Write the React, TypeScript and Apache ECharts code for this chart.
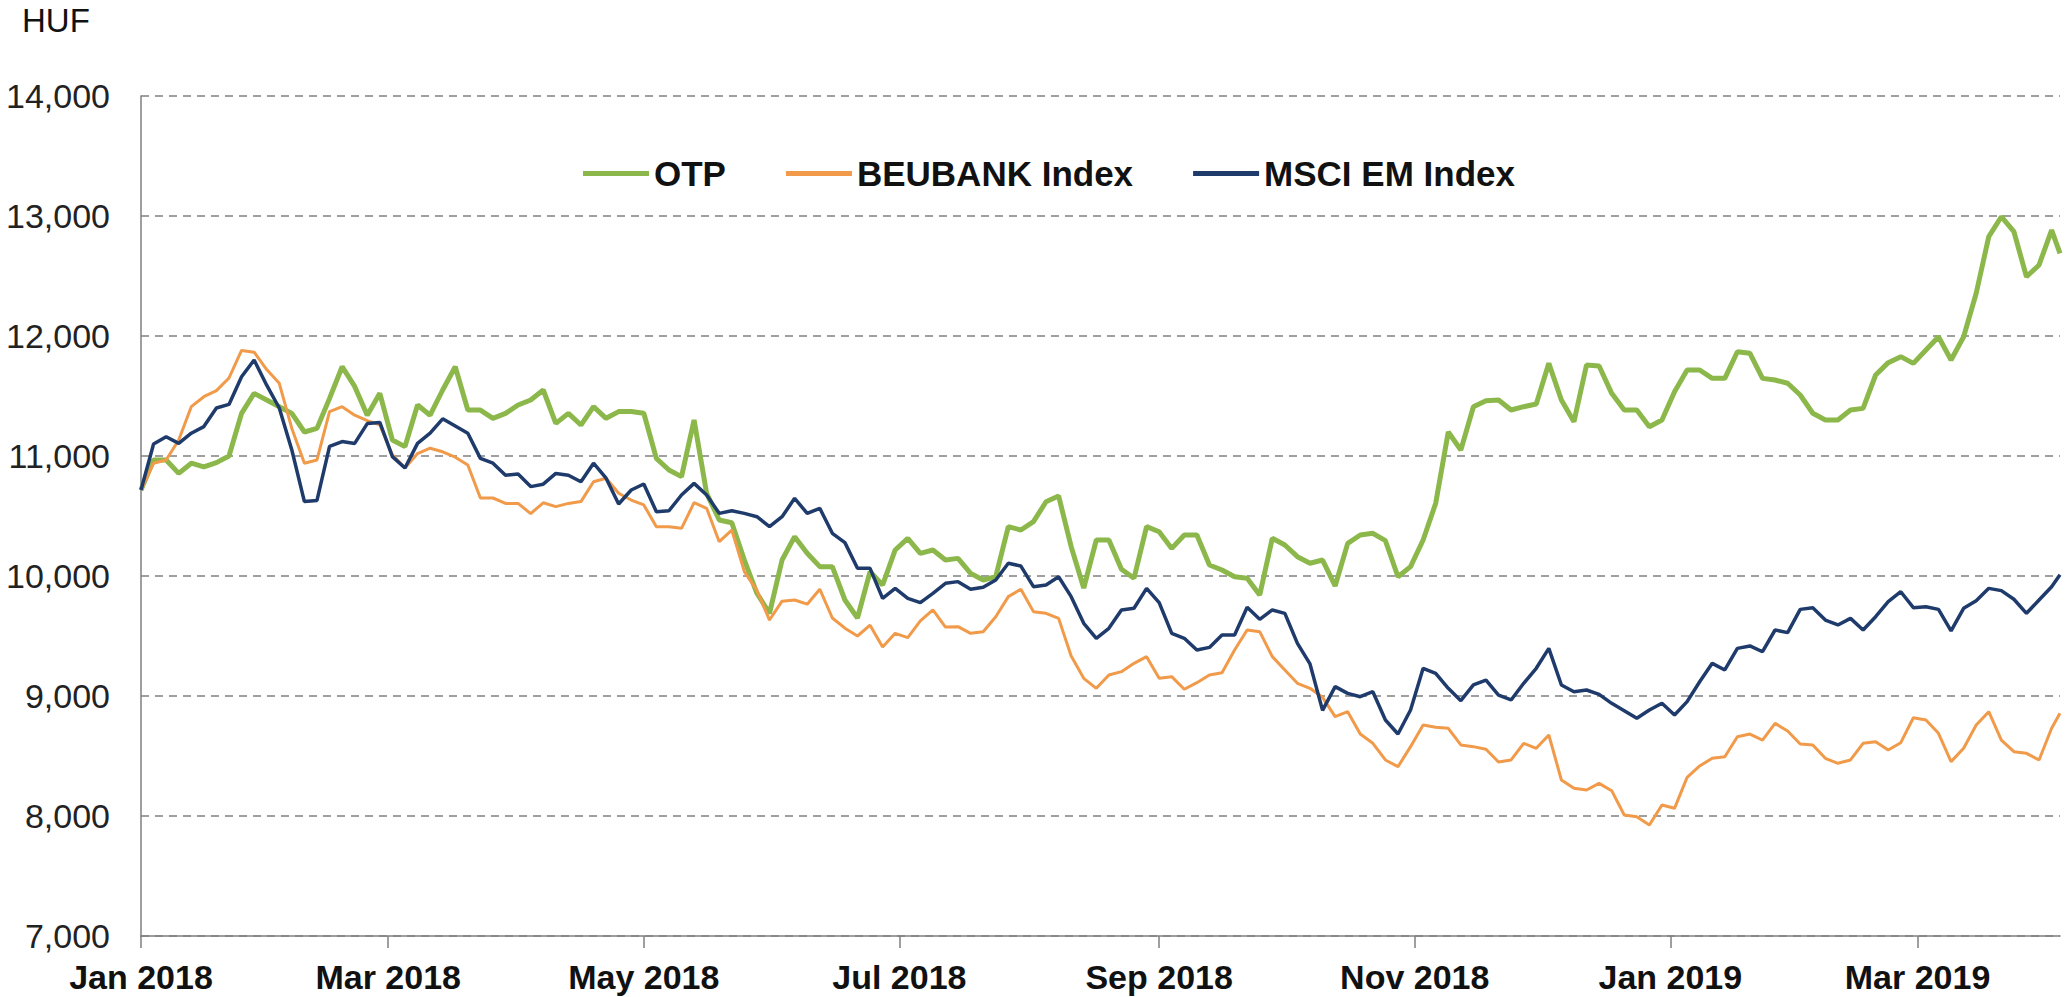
import React, { useEffect, useRef } from "react";
import * as echarts from "echarts";

// Sampling days (offset in calendar days from 1 Jan 2018), one reading every 3 days, last reading 458
const days: number[] = [];
for (let d = 0; d <= 456; d += 3) days.push(d);
days.push(458);

const otp: number[] = [
  10717, 10967, 10967, 10855, 10940, 10910, 10945, 11000, 11355, 11522,
  11467, 11411, 11355, 11200, 11230, 11480, 11744, 11580, 11340, 11522,
  11133, 11078, 11425, 11340, 11550, 11744, 11383, 11383, 11314, 11355,
  11425, 11467, 11550, 11272, 11355, 11258, 11411, 11314, 11370,
  11370, 11356, 10980, 10883, 10828, 11300, 10689, 10467, 10444, 10133,
  9856, 9689, 10133, 10328, 10189, 10078, 10078, 9800, 9650, 10036,
  9925, 10217, 10314, 10189, 10217, 10133, 10147, 10022, 9967, 9994,
  10411, 10383, 10453, 10619, 10667, 10244, 9900, 10300,
  10300, 10056, 9981, 10411, 10369, 10230, 10342, 10342, 10092, 10050,
  9994, 9981, 9842, 10314, 10258, 10161, 10106, 10133, 9917, 10272,
  10342, 10356, 10294, 9994, 10078, 10300, 10606, 11200, 11050, 11411,
  11461, 11467, 11383, 11411, 11433, 11772, 11467, 11286,
  11758, 11750, 11522, 11383, 11383, 11244, 11300, 11536, 11717, 11717,
  11647, 11647, 11869, 11856, 11647, 11633, 11606, 11508, 11356, 11300,
  11300, 11383, 11397, 11675, 11778, 11828, 11772, 11883, 11994, 11800,
  11994, 12356, 12828, 12994, 12869, 12494, 12592, 12883,
  12689,
];

const beubank: number[] = [
  10717, 10940, 10967, 11133, 11411, 11494, 11545, 11650, 11880, 11865,
  11720, 11606, 11230, 10940, 10967, 11370, 11411, 11340, 11295, 11260,
  11010, 10900, 11020, 11065, 11035, 10990, 10925, 10650, 10650, 10605,
  10605, 10520, 10610, 10578, 10605, 10620, 10785, 10815, 10690,
  10633, 10592, 10411, 10411, 10397, 10611, 10564, 10286, 10383, 10036,
  9880, 9633, 9790, 9800, 9765, 9890, 9650, 9565, 9500, 9590,
  9408, 9522, 9487, 9626, 9717, 9574, 9578, 9522, 9536, 9661,
  9828, 9890, 9703, 9689, 9647, 9333, 9147, 9064,
  9175, 9203, 9272, 9328, 9147, 9161, 9056, 9111, 9175, 9194,
  9383, 9550, 9536, 9328, 9217, 9106, 9064, 8989, 8828, 8869,
  8683, 8606, 8467, 8411, 8578, 8758, 8739, 8731, 8592, 8578,
  8556, 8450, 8467, 8606, 8564, 8675, 8300, 8231,
  8217, 8272, 8211, 8008, 7994, 7925, 8092, 8064, 8322, 8417,
  8481, 8494, 8661, 8683, 8633, 8772, 8708, 8600, 8592, 8481,
  8439, 8467, 8606, 8619, 8550, 8611, 8819, 8800, 8689, 8453,
  8564, 8758, 8869, 8633, 8536, 8522, 8467, 8731,
  8856,
];

const msci: number[] = [
  10717, 11100, 11160, 11105, 11190, 11245, 11400, 11430, 11660, 11800,
  11590, 11400, 11050, 10620, 10630, 11080, 11120, 11105, 11270, 11280,
  10995, 10900, 11105, 11190, 11310, 11250, 11190, 10980, 10940, 10840,
  10850, 10745, 10765, 10855, 10840, 10785, 10940, 10815, 10600,
  10717, 10767, 10536, 10544, 10675, 10772, 10675, 10522, 10544, 10522,
  10494, 10411, 10494, 10647, 10522, 10564, 10356, 10278, 10064, 10064,
  9814, 9897, 9814, 9778, 9856, 9939, 9953, 9889, 9906, 9967,
  10106, 10083, 9911, 9925, 9994, 9828, 9606, 9480,
  9564, 9717, 9731, 9897, 9778, 9522, 9481, 9383, 9405, 9508,
  9508, 9739, 9639, 9717, 9689, 9439, 9267, 8880, 9078, 9022,
  8994, 9036, 8800, 8683, 8883, 9231, 9189, 9064, 8961, 9092,
  9133, 9008, 8967, 9106, 9231, 9397, 9092, 9036,
  9050, 9014, 8939, 8878, 8814, 8883, 8939, 8842, 8953, 9119,
  9272, 9217, 9397, 9417, 9369, 9550, 9528, 9722, 9736, 9633,
  9592, 9647, 9550, 9661, 9786, 9869, 9736, 9744, 9722, 9542,
  9731, 9794, 9897, 9878, 9806, 9689, 9800, 9911,
  10010,
];

// Tick positions (days from 1 Jan 2018) and their labels
const tickDays: number[] = [0, 59, 120, 181, 243, 304, 365, 424];
const tickLabels: string[] = [
  "Jan 2018", "Mar 2018", "May 2018", "Jul 2018",
  "Sep 2018", "Nov 2018", "Jan 2019", "Mar 2019",
];

const seriesNames: string[] = ["OTP", "BEUBANK Index", "MSCI EM Index"];
const seriesColors: string[] = ["#8cb84b", "#f09a4a", "#1f3b6b"];
const unitLabel = "HUF";

const FONT = "'Liberation Sans', Arial, Helvetica, sans-serif";

export default function App() {
  const ref = useRef<HTMLDivElement>(null);

  useEffect(() => {
    if (!ref.current) return;
    const chart = echarts.init(ref.current, undefined, { renderer: "svg" });
    const pair = (vals: number[]) => days.map((d, i) => [d, vals[i]]);

    chart.setOption({
      animation: false,
      backgroundColor: "#ffffff",
      textStyle: { fontFamily: FONT },
      title: {
        text: unitLabel,
        left: 22,
        top: 4,
        padding: 0,
        textStyle: { fontFamily: FONT, fontSize: 33, fontWeight: "normal", color: "#111" },
      },
      legend: {
        data: seriesNames,
        icon: "rect",
        left: 583,
        top: 156,
        padding: 0,
        itemGap: 60,
        itemWidth: 66,
        itemHeight: 5,
        textStyle: { fontFamily: FONT, fontSize: 35, fontWeight: "bold", color: "#111" },
      },
      grid: { left: 141, top: 96, width: 1919, height: 840, containLabel: false },
      xAxis: {
        type: "value",
        min: 0,
        max: 458,
        axisLine: { show: true, lineStyle: { color: "#7f7f7f", width: 1.5 } },
        axisTick: {
          show: true,
          customValues: tickDays,
          length: 12,
          lineStyle: { color: "#7f7f7f", width: 1.5 },
        },
        axisLabel: {
          customValues: tickDays,
          formatter: (v: number) => {
            const i = tickDays.indexOf(Math.round(v));
            return i >= 0 ? tickLabels[i] : "";
          },
          fontFamily: FONT,
          fontSize: 34,
          fontWeight: "bold",
          color: "#111",
          margin: 24,
        },
        splitLine: { show: false },
      },
      yAxis: {
        type: "value",
        min: 7000,
        max: 14000,
        interval: 1000,
        axisLine: { show: true, lineStyle: { color: "#7f7f7f", width: 1.5 } },
        axisTick: { show: false },
        axisLabel: {
          formatter: (v: number) => v.toLocaleString("en-US"),
          fontFamily: FONT,
          fontSize: 34,
          color: "#222",
          margin: 31,
        },
        splitLine: {
          show: true,
          lineStyle: { color: "#808080", width: 1.5, type: [8, 6] },
        },
      },
      series: [
        {
          name: seriesNames[0],
          type: "line",
          data: pair(otp),
          symbol: "none",
          lineStyle: { color: seriesColors[0], width: 5 },
          itemStyle: { color: seriesColors[0] },
          z: 2,
        },
        {
          name: seriesNames[1],
          type: "line",
          data: pair(beubank),
          symbol: "none",
          lineStyle: { color: seriesColors[1], width: 3 },
          itemStyle: { color: seriesColors[1] },
          z: 3,
        },
        {
          name: seriesNames[2],
          type: "line",
          data: pair(msci),
          symbol: "none",
          lineStyle: { color: seriesColors[2], width: 3.5 },
          itemStyle: { color: seriesColors[2] },
          z: 4,
        },
      ],
    });

    return () => chart.dispose();
  }, []);

  return (
    <div
      ref={ref}
      style={{ position: "absolute", left: 0, top: 0, width: 2065, height: 997, background: "#fff" }}
    />
  );
}
